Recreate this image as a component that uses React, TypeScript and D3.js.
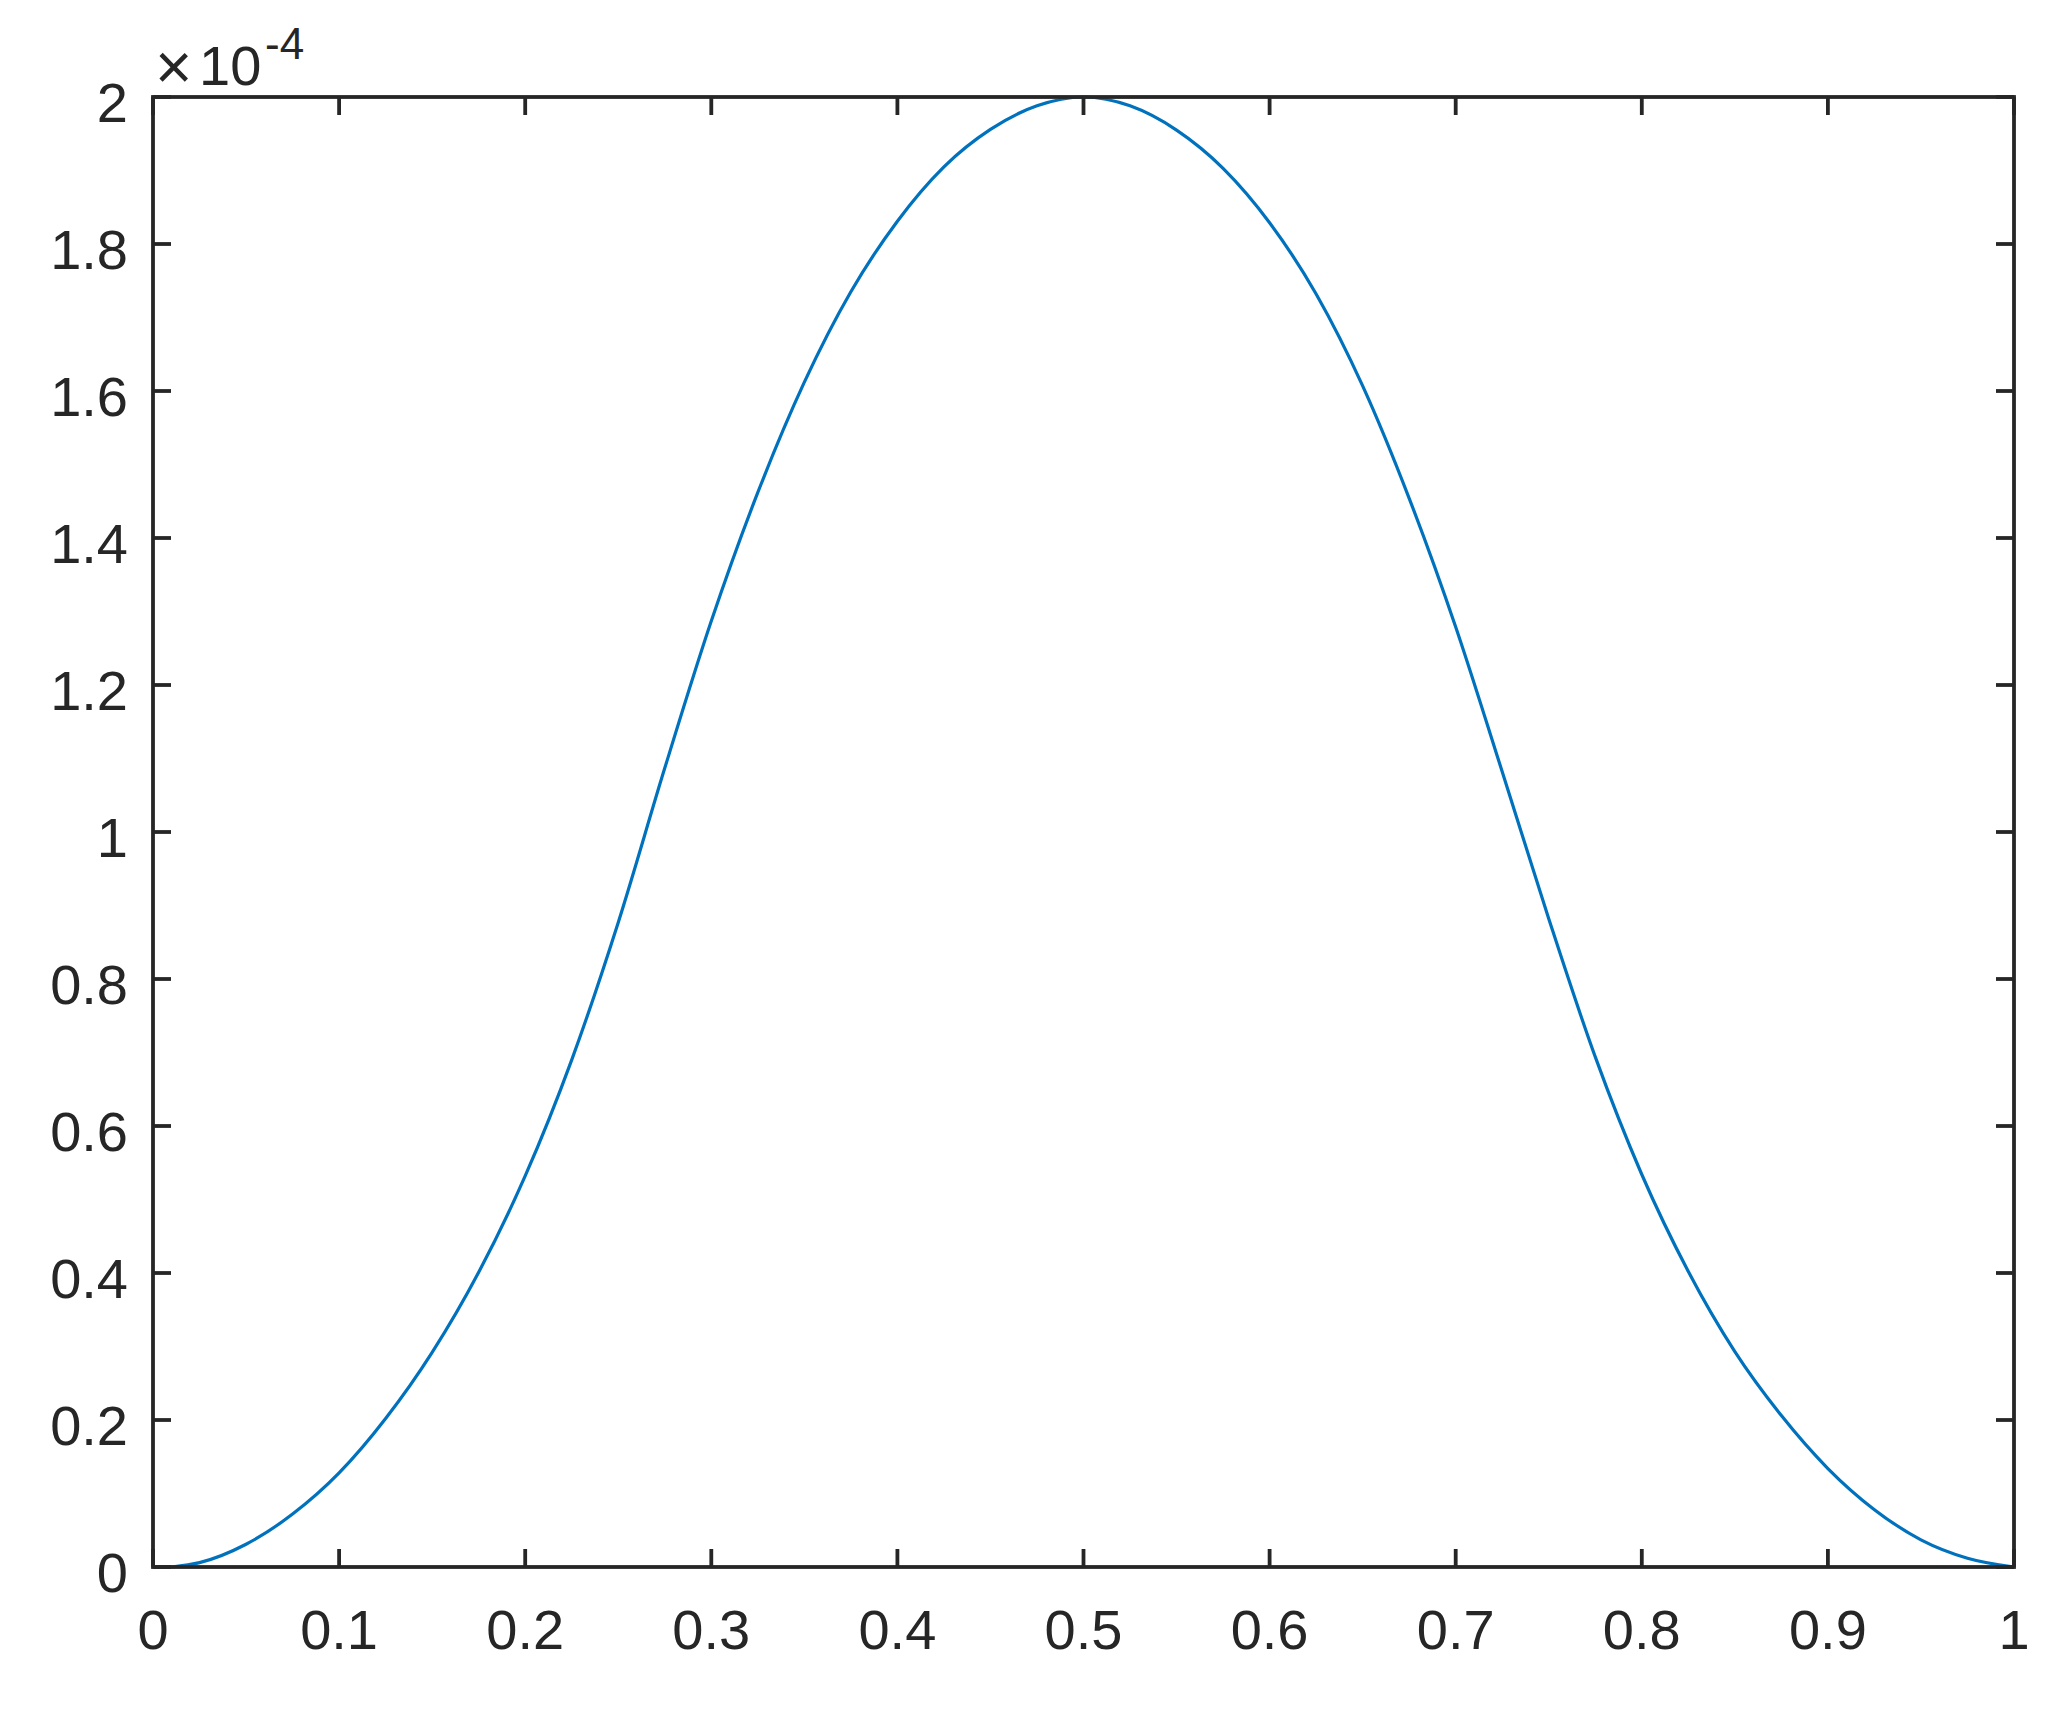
import React from "react";
import * as d3 from "d3";

// x positions and values (values in units of 1e-4, see exponent label)
const xValues = [
  0.01, 0.025, 0.05, 0.075, 0.1, 0.125, 0.15, 0.175, 0.2, 0.225, 0.25, 0.275, 0.3,
  0.325, 0.35, 0.375, 0.4, 0.425, 0.45, 0.475, 0.5, 0.525, 0.55, 0.575, 0.6, 0.625,
  0.65, 0.675, 0.7, 0.725, 0.75, 0.775, 0.8, 0.825, 0.85, 0.875, 0.9, 0.925, 0.95,
  0.975, 1.0,
];
const yValues = [
  0, 0.006, 0.031, 0.072, 0.128, 0.202, 0.292, 0.401, 0.532, 0.69, 0.877, 1.087, 1.287,
  1.462, 1.612, 1.735, 1.831, 1.905, 1.956, 1.988, 2.0, 1.988, 1.955, 1.903, 1.829, 1.732,
  1.607, 1.454, 1.279, 1.082, 0.882, 0.694, 0.534, 0.402, 0.293, 0.206, 0.134, 0.078, 0.037,
  0.012, 0,
];
const xTicks = [0, 0.1, 0.2, 0.3, 0.4, 0.5, 0.6, 0.7, 0.8, 0.9, 1];
const xTickLabels = ["0", "0.1", "0.2", "0.3", "0.4", "0.5", "0.6", "0.7", "0.8", "0.9", "1"];
const yTicks = [0, 0.2, 0.4, 0.6, 0.8, 1, 1.2, 1.4, 1.6, 1.8, 2];
const yTickLabels = ["0", "0.2", "0.4", "0.6", "0.8", "1", "1.2", "1.4", "1.6", "1.8", "2"];
const exponentTimes = "×";
const exponentBase = "10";
const exponentPower = "-4";

const W = 2056;
const H = 1724;
const L = 153, R = 2014, T = 97, B = 1567;
const AX = "#262626";
const FONT = "'Liberation Sans', Arial, Helvetica, sans-serif";
const FS = 56;
const TICK = 18;

export default function App() {
  const x = d3.scaleLinear().domain([0, 1]).range([L, R]);
  const y = d3.scaleLinear().domain([0, 2]).range([B, T]);
  const pts = xValues.map((v, i) => [v, yValues[i]] as [number, number]);
  const line = d3
    .line<[number, number]>()
    .x((d) => x(d[0]))
    .y((d) => y(d[1]))
    .curve(d3.curveMonotoneX);

  return (
    <svg
      width={W}
      height={H}
      style={{ position: "absolute", left: 0, top: 0, background: "#fff" }}
      fontFamily={FONT}
    >
      <rect x={0} y={0} width={W} height={H} fill="#fff" />
      <path d={line(pts) || ""} fill="none" stroke="#0072BD" strokeWidth={3.2} strokeLinejoin="round" />
      <rect x={L} y={T} width={R - L} height={B - T} fill="none" stroke={AX} strokeWidth={3.8} />
      {xTicks.map((t, i) => (
        <g key={"xt" + i}>
          <line x1={x(t)} x2={x(t)} y1={B} y2={B - TICK} stroke={AX} strokeWidth={3.8} />
          <line x1={x(t)} x2={x(t)} y1={T} y2={T + TICK} stroke={AX} strokeWidth={3.8} />
          <text x={x(t)} y={B + 82} textAnchor="middle" fontSize={FS} fill={AX}>
            {xTickLabels[i]}
          </text>
        </g>
      ))}
      {yTicks.map((t, i) => (
        <g key={"yt" + i}>
          <line x1={L} x2={L + TICK} y1={y(t)} y2={y(t)} stroke={AX} strokeWidth={3.8} />
          <line x1={R} x2={R - TICK} y1={y(t)} y2={y(t)} stroke={AX} strokeWidth={3.8} />
          <text x={L - 25} y={y(t) + 24.6} textAnchor="end" fontSize={FS} fill={AX}>
            {yTickLabels[i]}
          </text>
        </g>
      ))}
      <text x={155} y={89} fontSize={64} fill={AX}>
        {exponentTimes}
      </text>
      <text x={199} y={85} fontSize={FS} fill={AX}>
        {exponentBase}
      </text>
      <text x={265} y={59} fontSize={44} fill={AX}>
        {exponentPower}
      </text>
    </svg>
  );
}
